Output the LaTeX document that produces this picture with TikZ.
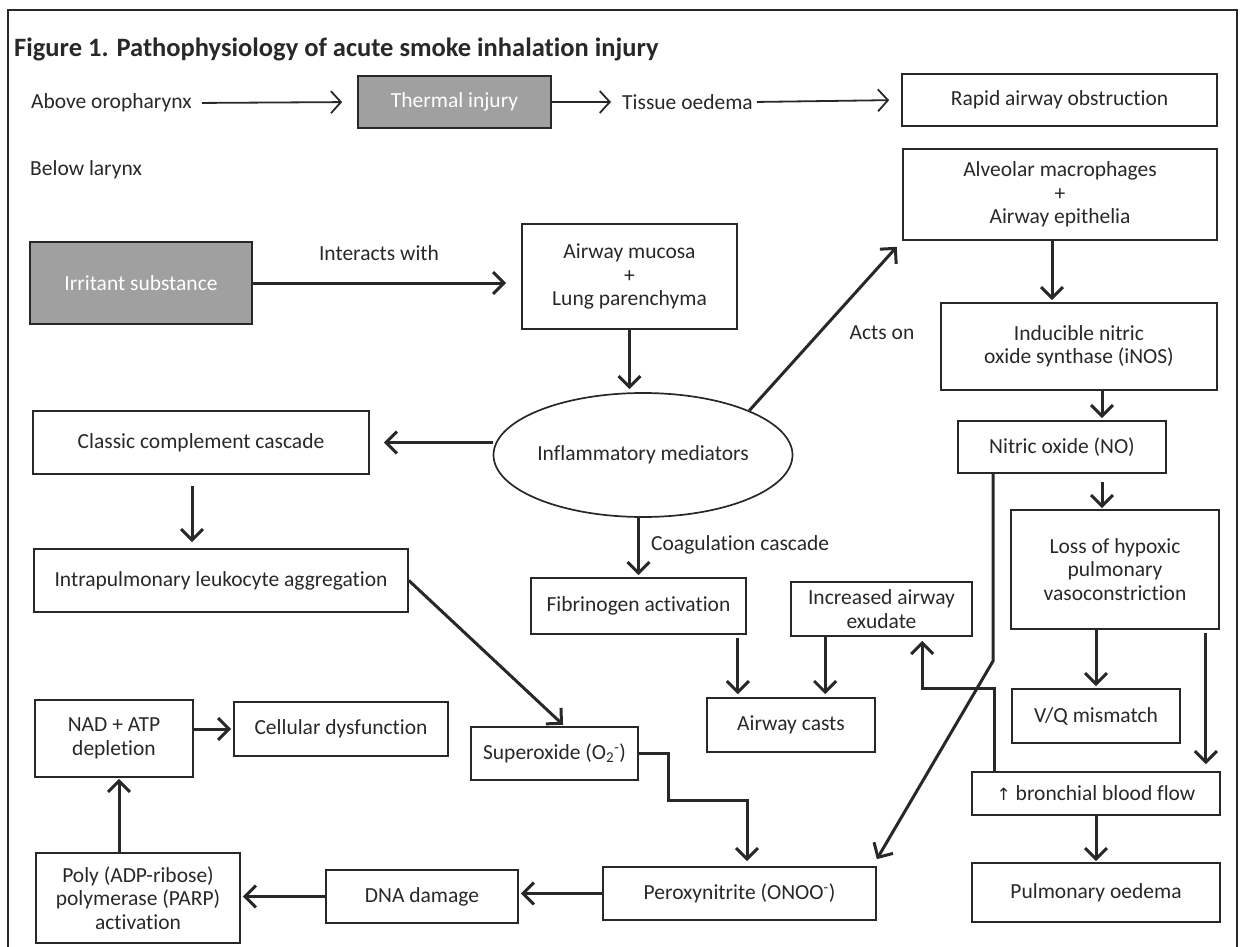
\documentclass[tikz,border=0pt]{standalone}
\usepackage{fontspec}
\setmainfont{Carlito}[Ligatures={NoCommon}]
\newfontfamily\arrowfont{DejaVu Sans}
\usetikzlibrary{arrows.meta,shapes.geometric}
\definecolor{ink}{RGB}{40,40,40}
\definecolor{boxgray}{RGB}{160,160,160}
\begin{document}
\begin{tikzpicture}[
        x=1pt, y=-1pt,
        every node/.style={font=\fontsize{21.5}{23.5}\selectfont, text=ink},
        box/.style={draw=ink, line width=1.7pt, align=center, inner sep=0pt},
        shaded/.style={box, fill=boxgray, text=white},
        plain/.style={anchor=west, inner sep=0pt},
        arr/.style={draw=ink, line width=3pt, -{Straight Barb[length=11pt,width=22pt]}},
        thinarr/.style={draw=ink, line width=1.8pt, -{Straight Barb[length=10pt,width=22pt]}},
    ]
    \useasboundingbox (0,0) rectangle (1242,947);
    \draw[ink, line width=1.5pt] (8,947) -- (8,10) -- (1237,10) -- (1237,947);
    \node[anchor=base west, inner sep=0pt, font=\fontsize{26.5}{30}\selectfont\bfseries] (title) at (14,57)
        {Figure 1. Pathophysiology of acute smoke inhalation injury};

    % above oropharynx
    \node[plain] (above) at (31,103) {Above oropharynx};
    \node[shaded, minimum width=193, minimum height=52] (thermal) at (454.5,102) {Thermal injury};
    \node[plain] (tissue) at (622,102) {Tissue oedema};
    \node[box, minimum width=315, minimum height=52] (rapid) at (1059.5,100) {Rapid airway obstruction};
    \draw[thinarr, shorten <=10pt, shorten >=15pt] (above.east) -- (thermal.west);
    \draw[thinarr, shorten >=11pt] (thermal.east) -- (tissue.west);
    \draw[thinarr, shorten <=4pt, shorten >=12pt] (tissue.east) -- (rapid.west);

    % below larynx
    \node[plain] (below) at (30,170) {Below larynx};
    \node[shaded, minimum width=222, minimum height=82] (irritant) at (141,283) {Irritant substance};
    \node[box, minimum width=215, minimum height=105] (mucosa) at (629.5,276.5) {Airway mucosa\\+\\Lung parenchyma};
    \node[ellipse, draw=ink, line width=1.7pt, minimum width=295, minimum height=124, inner sep=0pt] (infl) at (643,455) {Inflammatory mediators};
    \node[box, minimum width=314, minimum height=91] (alveolar) at (1060,194.5) {Alveolar macrophages\\+\\Airway epithelia};
    \node[box, minimum width=276, minimum height=87] (inos) at (1079,346.5) {Inducible nitric\\oxide synthase (iNOS)};
    \node[box, minimum width=208, minimum height=52] (no) at (1062,447) {Nitric oxide (NO)};
    \node[box, minimum width=208, minimum height=119] (loss) at (1115,569.5) {Loss of hypoxic\\pulmonary\\vasoconstriction};
    \node[box, minimum width=336, minimum height=63] (classic) at (201,442.5) {Classic complement cascade};
    \node[box, minimum width=374, minimum height=63] (intra) at (221,580.5) {Intrapulmonary leukocyte aggregation};
    \node[box, minimum width=215, minimum height=56] (fibrin) at (638.5,606) {Fibrinogen activation};
    \node[box, minimum width=181, minimum height=54] (exudate) at (881.5,609) {Increased airway\\exudate};
    \node[box, minimum width=168, minimum height=54] (casts) at (791,725) {Airway casts};
    \node[box, minimum width=168, minimum height=54] (vq) at (1096,716) {V/Q mismatch};
    \node[box, minimum width=158, minimum height=77] (nad) at (114,738.5) {NAD + ATP\\depletion};
    \node[box, minimum width=214, minimum height=54] (cell) at (341,729) {Cellular dysfunction};
    \node[box, minimum width=167, minimum height=53] (superox) at (554.5,753.5) {Superoxide (O\textsubscript{2}\textsuperscript{-})};
    \node[box, minimum width=248, minimum height=43] (bronch) at (1096,793.5) {{\arrowfont\fontsize{17}{20}\selectfont ↑} bronchial blood flow};
    \node[box, minimum width=248, minimum height=59] (pulm) at (1096,892.5) {Pulmonary oedema};
    \node[box, minimum width=273, minimum height=53] (perox) at (739.5,893.5) {Peroxynitrite (ONOO\textsuperscript{-})};
    \node[box, minimum width=192, minimum height=53] (dna) at (422,896.5) {DNA damage};
    \node[box, minimum width=204, minimum height=90] (poly) at (138,898) {Poly (ADP-ribose)\\polymerase (PARP)\\activation};

    % labels
    \node (interacts) at (379,253) {Interacts with};
    \node (actson) at (882,333) {Acts on};
    \node[plain] (coag) at (651,545) {Coagulation cascade};

    % connectors
    \draw[arr, shorten >=15pt] (irritant.east) -- (irritant.east -| mucosa.west);
    \draw[arr, shorten >=3pt] (mucosa.south) -- (mucosa.south |- infl.north);
    \draw[arr, shorten >=8pt] (infl.north east) -- (alveolar.south west);
    \draw[arr, shorten >=2pt] ([xshift=-8pt]alveolar.south) -- ([xshift=-8pt]alveolar.south |- inos.north);
    \draw[arr, shorten >=2pt] ([xshift=23pt]inos.south) -- ([xshift=23pt]inos.south |- no.north);
    \draw[arr, shorten <=8pt, shorten >=1pt] ([xshift=-13pt]loss.north |- no.south) -- ([xshift=-13pt]loss.north);
    \draw[arr, shorten >=14pt] (infl.west |- classic.east) -- (classic.east);
    \draw[arr, shorten <=11pt, shorten >=6pt] ([xshift=-9pt]classic.south) -- ([xshift=-9pt]classic.south |- intra.north);
    \draw[arr, shorten >=2pt] (intra.east) -- ([xshift=10pt]superox.north);
    \draw[arr, shorten >=2pt] (infl.south -| fibrin.north) -- (fibrin.north);
    \draw[arr, shorten <=3pt, shorten >=3pt] ([xshift=-9pt]fibrin.south east) -- ([xshift=-9pt]fibrin.south east |- casts.north);
    \draw[arr, shorten >=3pt] ([xshift=35pt]exudate.south west) -- ([xshift=35pt]exudate.south west |- casts.north);
    \draw[arr, shorten >=2pt] (vq.north |- loss.south) -- (vq.north);
    \draw[arr, shorten <=3pt, shorten >=7pt] ([xshift=-14pt]loss.south east) -- ([xshift=-14pt]loss.south east |- bronch.north);
    \draw[arr, shorten >=4pt] ([xshift=23pt]bronch.north west) -- ++(0,-83) -| ([xshift=132pt]exudate.south west);
    \draw[arr] ([xshift=36pt]no.south west) -- ++(0,187) -- ([yshift=7pt]perox.north east);
    \draw[arr, shorten >=5pt] (superox.east) -- ++(30,0) -- ++(0,47) -| ([xshift=7.5pt]perox.north);
    \draw[arr, shorten >=2pt] (perox.west) -- (perox.west -| dna.east);
    \draw[arr, shorten >=2pt] (dna.west) -- (dna.west -| poly.east);
    \draw[arr, shorten >=1pt] ([xshift=-19pt]poly.north) -- ([xshift=-19pt]poly.north |- nad.south);
    \draw[arr, shorten >=2pt] (nad.east |- cell.west) -- (cell.west);
    \draw[arr, shorten >=1pt] (bronch.south) -- (pulm.north);
\end{tikzpicture}
\end{document}
